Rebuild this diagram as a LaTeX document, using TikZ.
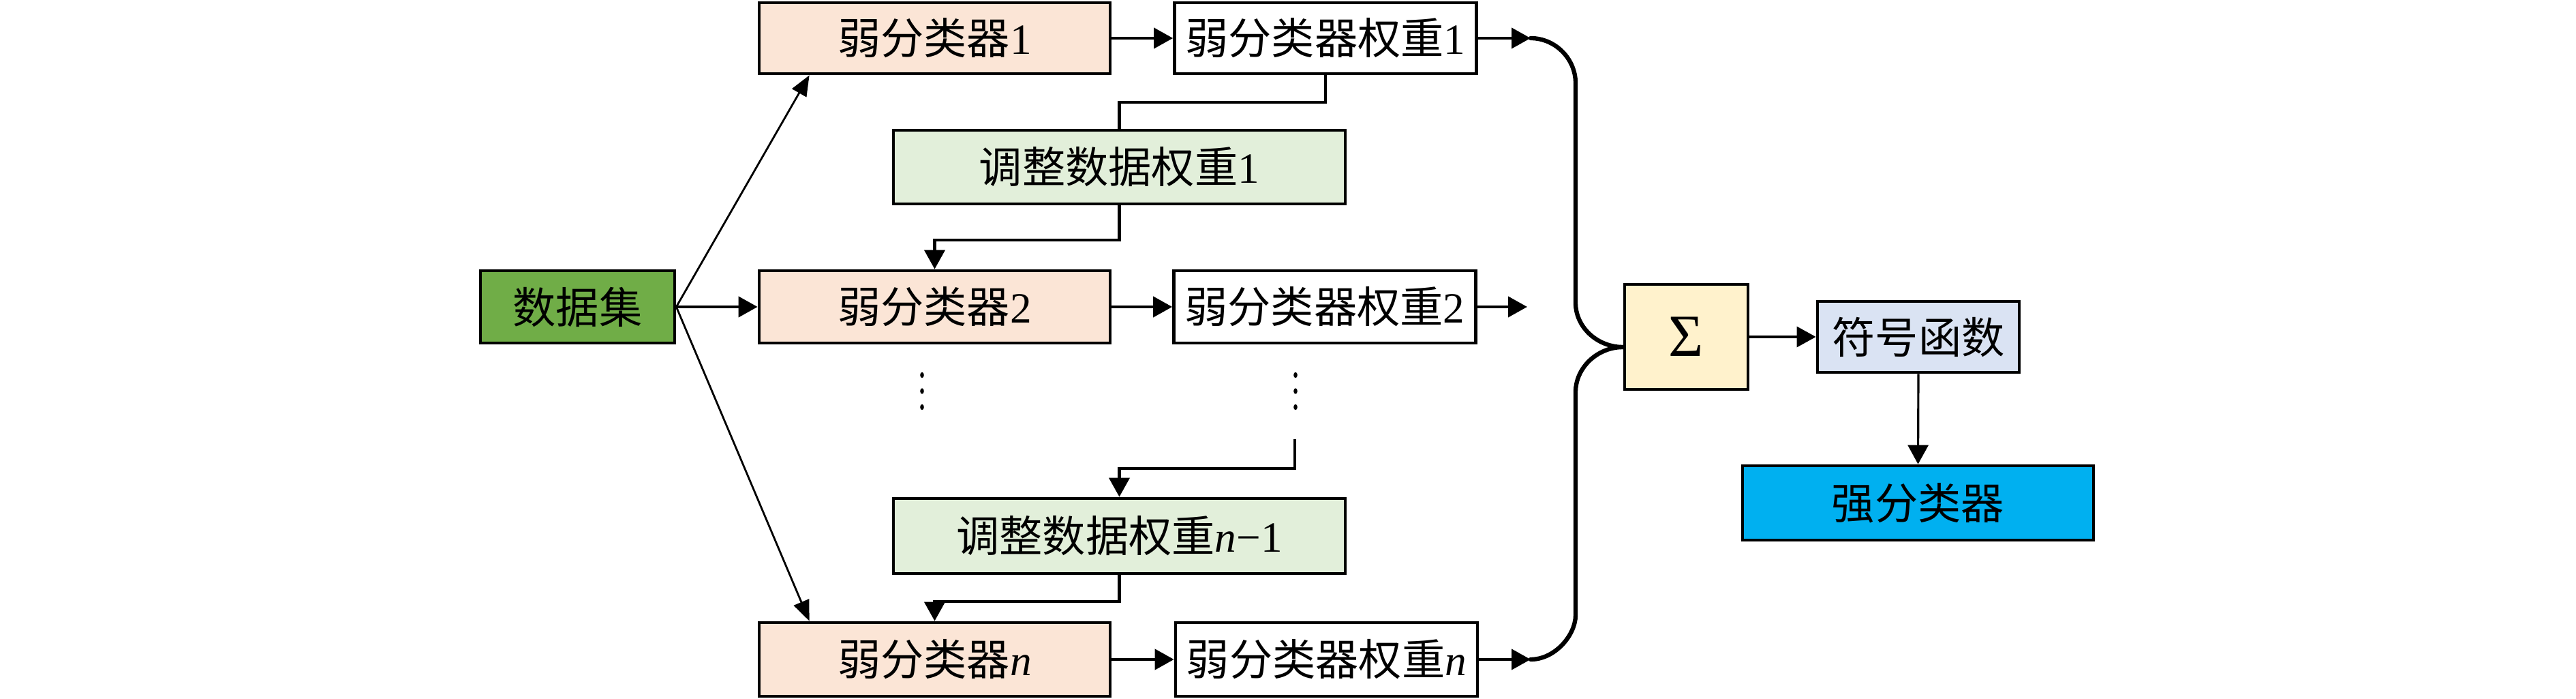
\documentclass[tikz,border=0pt]{standalone}
\usepackage{fontspec}
\setmainfont{Liberation Serif}
\newfontfamily\cjkf{Noto Sans CJK SC}
\usetikzlibrary{arrows.meta,calc}
\definecolor{dsgreen}{HTML}{70AD47}
\definecolor{peach}{HTML}{FBE5D6}
\definecolor{lgreen}{HTML}{E2EFDA}
\definecolor{sigmay}{HTML}{FFF2CC}
\definecolor{signb}{HTML}{DAE3F3}
\definecolor{strongb}{HTML}{00B0F0}
\tikzset{
  box/.style={draw=black, line width=1.35pt, inner sep=0pt, font=\fontsize{18}{20}\selectfont},
  wbox/.style={box, fill=peach, minimum width=5.15cm, minimum height=1.06cm},
  wwbox/.style={box, fill=white, minimum width=4.43cm, minimum height=1.06cm},
  adjbox/.style={box, fill=lgreen, minimum width=6.63cm, minimum height=1.08cm},
  conn/.style={line width=1.2pt},
  arr/.style={conn, -{Triangle[length=0.28cm,width=0.30cm]}},
  diag/.style={line width=0.8pt, -{Triangle[length=0.30cm,width=0.24cm]}},
  brace/.style={line width=1.8pt, line cap=round},
  dotm/.style={fill=black},
}
\begin{document}
\begin{tikzpicture}
\useasboundingbox (0,0) rectangle (37.8,10.25);

% nodes
\node[box, fill=dsgreen, minimum width=2.85cm, minimum height=1.06cm] (ds) at (8.475,5.75) {\cjkf 数据集};

\node[wbox, minimum height=1.04cm] (w1) at (13.715,9.69) {\cjkf 弱分类器\rmfamily 1};
\node[wwbox, minimum height=1.04cm] (ww1) at (19.45,9.69) {\cjkf 弱分类器权重\rmfamily 1};
\node[adjbox] (adj1) at (16.425,7.80) {\cjkf 调整数据权重\rmfamily 1};

\node[wbox] (w2) at (13.715,5.75) {\cjkf 弱分类器\rmfamily 2};
\node[wwbox] (ww2) at (19.44,5.75) {\cjkf 弱分类器权重\rmfamily 2};

\node[adjbox, minimum height=1.10cm] (adjn) at (16.425,2.39) {\cjkf 调整数据权重\rmfamily\textit{n}−1};

\node[wbox, minimum height=1.08cm] (wn) at (13.715,0.58) {\cjkf 弱分类器\rmfamily\textit{n}};
\node[wwbox, minimum height=1.08cm] (wwn) at (19.465,0.58) {\cjkf 弱分类器权重\rmfamily\textit{n}};

\node[box, fill=sigmay, minimum width=1.81cm, minimum height=1.54cm, font=\fontsize{25}{28}\selectfont] (sigma) at (24.745,5.31) {Σ};
\node[box, fill=signb, minimum width=2.96cm, minimum height=1.04cm] (sign) at (28.15,5.31) {\cjkf 符号函数};
\node[box, fill=strongb, minimum width=5.15cm, minimum height=1.09cm] (strong) at (28.145,2.875) {\cjkf 强分类器};

% dots
\fill[dotm] (13.53,4.75) ellipse [x radius=0.028, y radius=0.042];
\fill[dotm] (13.53,4.515) ellipse [x radius=0.028, y radius=0.042];
\fill[dotm] (13.53,4.28) ellipse [x radius=0.028, y radius=0.042];
\fill[dotm] (19.01,4.75) ellipse [x radius=0.028, y radius=0.042];
\fill[dotm] (19.01,4.515) ellipse [x radius=0.028, y radius=0.042];
\fill[dotm] (19.01,4.28) ellipse [x radius=0.028, y radius=0.042];

% free ends
\coordinate (b1) at (22.46,9.69);
\coordinate (b2) at (22.41,5.75);
\coordinate (bn) at (22.46,0.58);
\coordinate (cs) at (19.0,3.81);
\coordinate (join) at ([yshift=-1.5mm]sigma.west);

% connectors
\draw[diag] (ds.east) -- ([xshift=0.76cm]w1.south west);
\draw[diag] (ds.east) -- ([xshift=0.76cm]wn.north west);
\draw[arr] (ds.east) -- (w2.west);

\draw[arr] (w1.east) -- (ww1.west);
\draw[arr] (w2.east) -- (ww2.west);
\draw[arr] (wn.east) -- (wwn.west);

\draw[arr] (ww1.east) -- (b1);
\draw[arr] (ww2.east) -- (b2);
\draw[arr] (wwn.east) -- (bn);

\draw[conn] (ww1.south) -- ++(0,-0.40) -| (adj1.north);
\draw[arr] (adj1.south) -- ++(0,-0.505) -| (w2.north);
\draw[arr] (cs) -- ++(0,-0.43) -| (adjn.north);
\draw[arr] (adjn.south) -- ++(0,-0.39) -| (wn.north);

% brace
\draw[brace] (b1) .. controls (22.82,9.69) and (23.12,9.39) .. (23.12,9.03)
  -- (23.12,5.81) .. controls (23.12,5.45) and (23.44,5.16) .. (join);
\draw[brace] (join) .. controls (23.44,5.16) and (23.12,4.86) .. (23.12,4.50)
  -- (23.12,1.23) .. controls (23.12,0.94) and (22.82,0.58) .. (bn);

\draw[line width=0.9pt, -{Triangle[length=0.28cm,width=0.30cm]}] (sigma.east) -- (sign.west);
\draw[line width=0.9pt, -{Triangle[length=0.28cm,width=0.30cm]}] (sign.south) -- (strong.north);
\end{tikzpicture}
\end{document}
